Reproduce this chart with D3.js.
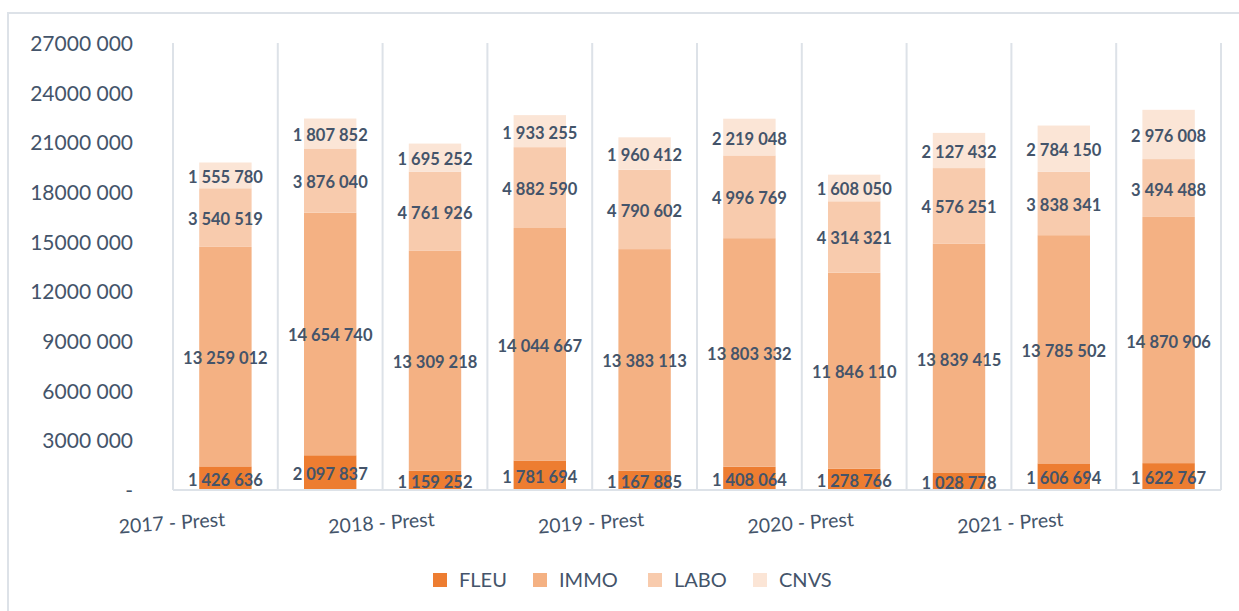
<!DOCTYPE html>
<html>
<head>
<meta charset="utf-8">
<script src="https://cdn.jsdelivr.net/npm/d3@7"></script>
<style>
  html, body { margin: 0; padding: 0; background: #ffffff; }
  svg { display: block; }
  text { font-family: Lato, "Open Sans", sans-serif; fill: #44546A; }
</style>
</head>
<body>
<svg id="chart" width="1239" height="611"></svg>
<script>
// Categories (every other label is shown on the axis)
const categories = [
  "2017 - Prest", "2017 - Réel",
  "2018 - Prest", "2018 - Réel",
  "2019 - Prest", "2019 - Réel",
  "2020 - Prest", "2020 - Réel",
  "2021 - Prest", "2021 - Réel"
];
const seriesNames = ["FLEU", "IMMO", "LABO", "CNVS"];
const fleu = [1426636, 2097837, 1159252, 1781694, 1167885, 1408064, 1278766, 1028778, 1606694, 1622767];
const immo = [13259012, 14654740, 13309218, 14044667, 13383113, 13803332, 11846110, 13839415, 13785502, 14870906];
const labo = [3540519, 3876040, 4761926, 4882590, 4790602, 4996769, 4314321, 4576251, 3838341, 3494488];
const cnvs = [1555780, 1807852, 1695252, 1933255, 1960412, 2219048, 1608050, 2127432, 2784150, 2976008];
const yTicks = [0, 3000000, 6000000, 9000000, 12000000, 15000000, 18000000, 21000000, 24000000, 27000000];
const colors = ["#ED7D31", "#F4B183", "#F8CBAD", "#FBE5D6"];

const svg = d3.select("#chart");
const W = 1239, H = 611;
const plot = { left: 173, right: 1221, top: 43, bottom: 490 };
const gridColor = "#DDE2E8";

// Outer chart frame
svg.append("rect")
  .attr("x", 8).attr("y", 13)
  .attr("width", W + 20).attr("height", H + 20)
  .attr("fill", "none").attr("stroke", gridColor).attr("stroke-width", 2);

const x = d3.scaleBand().domain(categories).range([plot.left, plot.right]).paddingInner(0.5).paddingOuter(0.25);
const y = d3.scaleLinear().domain([0, 27000000]).range([plot.bottom, plot.top]);

// Vertical gridlines at category boundaries
const step = x.step();
const boundaries = d3.range(categories.length + 1).map(i => plot.left + i * (plot.right - plot.left) / categories.length);
svg.append("g").selectAll("line").data(boundaries).join("line")
  .attr("x1", d => d).attr("x2", d => d)
  .attr("y1", plot.top).attr("y2", plot.bottom)
  .attr("stroke", gridColor).attr("stroke-width", 2);

// Stacked bars
const rows = categories.map((c, i) => ({ cat: c, FLEU: fleu[i], IMMO: immo[i], LABO: labo[i], CNVS: cnvs[i] }));
const stacked = d3.stack().keys(seriesNames)(rows);

const groups = svg.append("g").selectAll("g").data(stacked).join("g")
  .attr("fill", (d, i) => colors[i]);
groups.selectAll("rect").data(d => d).join("rect")
  .attr("x", d => x(d.data.cat))
  .attr("width", x.bandwidth())
  .attr("y", d => y(d[1]))
  .attr("height", d => y(d[0]) - y(d[1]));

// Baseline
svg.append("line")
  .attr("x1", plot.left).attr("x2", plot.right)
  .attr("y1", plot.bottom).attr("y2", plot.bottom)
  .attr("stroke", gridColor).attr("stroke-width", 2);

// Value labels
const fmtLabel = v => d3.format(",")(v).replace(/,/g, " ");
const labelGroup = svg.append("g");
stacked.forEach(s => {
  labelGroup.selectAll(null).data(s).join("text")
    .attr("x", d => x(d.data.cat) + x.bandwidth() / 2)
    .attr("y", d => (y(d[0]) + y(d[1])) / 2 + 7.5)
    .attr("text-anchor", "middle")
    .attr("font-weight", 700)
    .attr("font-size", 16.5)
    .text(d => fmtLabel(d[1] - d[0]));
});

// Y axis labels
const fmtAxis = v => v === 0 ? "-" : `${Math.floor(v / 1000)} ${String(v % 1000).padStart(3, "0")}`;
const yAxis = d3.axisLeft(y).tickValues(yTicks).tickFormat(fmtAxis).tickSize(0).tickPadding(0);
const gy = svg.append("g").attr("transform", `translate(133,0)`).call(yAxis);
gy.select(".domain").remove();
gy.selectAll("text")
  .attr("font-size", 21)
  .attr("font-family", "Lato, sans-serif")
  .attr("fill", "#44546A")
  .attr("dy", "0.36em");

// X axis labels (every other category), slightly tilted
svg.append("g").selectAll("text")
  .data(categories.filter((c, i) => i % 2 === 0))
  .join("text")
  .attr("transform", d => `translate(${x(d) + x.bandwidth() / 2},526) rotate(-4)`)
  .attr("text-anchor", "end")
  .attr("font-size", 19.5)
  .text(d => d);

// Legend
const legendX = [433, 533, 648, 753];
const legend = svg.append("g").selectAll("g").data(seriesNames).join("g")
  .attr("transform", (d, i) => `translate(${legendX[i]},573)`);
legend.append("rect").attr("width", 14).attr("height", 14).attr("fill", (d, i) => colors[i]);
legend.append("text").attr("x", 26).attr("y", 7).attr("dy", "0.36em")
  .attr("font-size", 20).text(d => d);
</script>
</body>
</html>
